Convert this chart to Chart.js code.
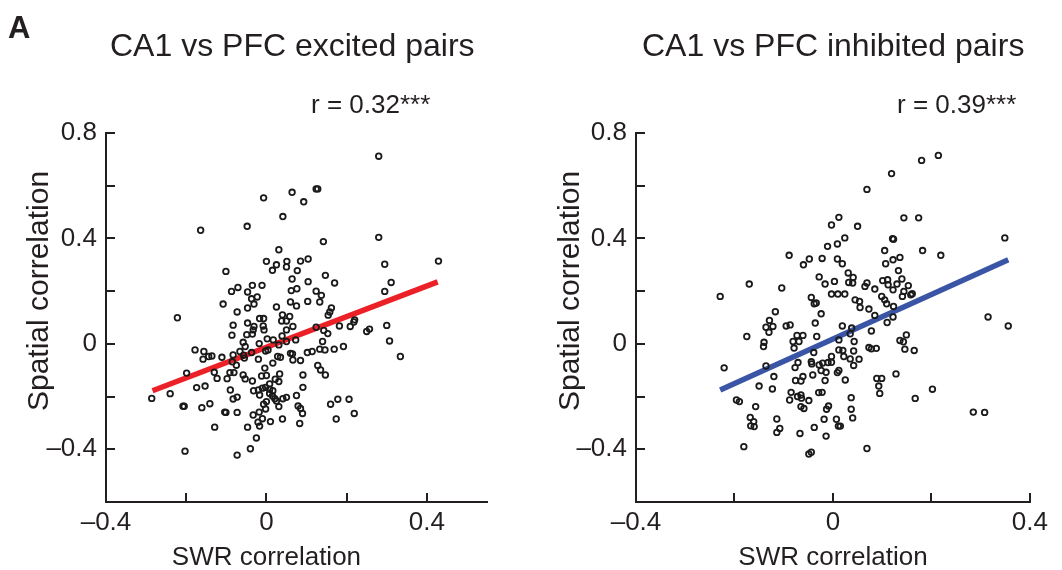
<!DOCTYPE html>
<html>
<head>
<meta charset="utf-8">
<script src="https://cdn.jsdelivr.net/npm/chart.js@4.4.1/dist/chart.umd.min.js"></script>
<style>
  html, body { margin: 0; padding: 0; background: #fff; }
  #fig { position: relative; width: 1062px; height: 570px; overflow: hidden; }
  .panel { position: absolute; top: 0; width: 531px; height: 570px; }
</style>
</head>
<body>
<div id="fig">
  <div class="panel" style="left:0"><canvas id="excited"></canvas></div>
  <div class="panel" style="left:531px"><canvas id="inhibited"></canvas></div>
</div>
<script>
(function () {
  "use strict";

  var FONT = '"Liberation Sans", Arial, Helvetica, sans-serif';
  var INK = "#231f20";

  // [SWR correlation, spatial correlation] per cell pair
  var excitedPairs = [
    [-0.007,0.554],[-0.164,0.431],[-0.048,0.446],[0.031,0.357],[0.000,0.313],[0.025,0.300],[0.015,0.279],
    [-0.101,0.275],[-0.087,0.199],[-0.071,0.214],[-0.047,0.197],[-0.035,0.222],[-0.011,0.222],[-0.037,0.171],
    [-0.023,0.178],[-0.031,0.151],[-0.108,0.151],[-0.047,0.136],[0.025,0.140],
    [0.280,0.712],[0.124,0.588],[0.128,0.588],[0.064,0.575],[0.093,0.539],[0.041,0.483],[0.280,0.404],
    [0.142,0.388],[0.051,0.313],[0.050,0.292],[0.077,0.278],[0.085,0.314],[0.104,0.322],[0.295,0.302],
    [0.429,0.314],[0.147,0.260],[0.064,0.246],[0.104,0.236],[0.170,0.231],[0.311,0.233],[0.076,0.209],
    [0.062,0.202],[0.124,0.200],[0.137,0.184],[0.295,0.199],[0.060,0.159],[0.075,0.144],[0.103,0.161],
    [0.133,0.159],[0.162,0.136],
    [-0.222,0.099],[-0.073,0.121],[-0.017,0.096],[-0.007,0.096],[-0.047,0.079],[-0.083,0.071],[-0.031,0.066],
    [-0.008,0.068],[-0.006,0.053],[-0.033,0.053],[-0.086,0.033],[-0.049,0.035],[-0.035,0.037],[0.002,0.019],
    [0.017,0.015],[-0.058,0.006],[-0.053,-0.010],[-0.018,0.001],[0.031,-0.004],[-0.178,-0.023],[-0.156,-0.029],
    [-0.066,-0.029],[-0.037,-0.033],[-0.002,-0.027],[0.004,-0.023],[-0.144,-0.048],[-0.136,-0.046],
    [-0.158,-0.058],[-0.111,-0.051],[-0.083,-0.042],[-0.057,-0.043],[-0.055,-0.054],[-0.020,-0.058],
    [0.028,-0.048],[-0.085,-0.068],[-0.075,-0.081],[0.016,-0.073],[-0.004,-0.092],[-0.199,-0.111],
    [-0.130,-0.108],[-0.091,-0.109],[-0.081,-0.109],[-0.058,-0.118],[-0.012,-0.122],[0.000,-0.120],
    [-0.123,-0.131],[-0.098,-0.132],[-0.053,-0.133],[-0.035,-0.141],[0.022,-0.134],[0.008,-0.152],
    [0.031,-0.143],[-0.174,-0.166],[-0.153,-0.160],[-0.090,-0.175],[-0.032,-0.178],[-0.020,-0.175],
    [-0.010,-0.168],[-0.002,-0.165],[0.008,-0.172],[0.016,-0.178],[-0.240,-0.189],[-0.017,-0.194],
    [0.008,-0.188],[0.015,-0.198],[-0.286,-0.207],[-0.083,-0.209],[-0.073,-0.202],[0.021,-0.208],
    [0.000,-0.219],[0.025,-0.217],[-0.208,-0.237],[-0.205,-0.237],[-0.161,-0.242],[-0.141,-0.227],
    [-0.007,-0.229],[-0.002,-0.247],[0.031,-0.238],[-0.104,-0.259],[-0.101,-0.260],[-0.073,-0.260],
    [-0.033,-0.270],[-0.018,-0.259],[-0.010,-0.284],[-0.021,-0.297],[-0.017,-0.312],[0.010,-0.295],
    [-0.047,-0.316],[-0.129,-0.316],[-0.025,-0.357],[-0.040,-0.398],[-0.203,-0.407],[-0.073,-0.422],
    [0.158,0.121],[0.154,0.109],[0.040,0.110],[0.058,0.104],[0.038,0.087],[0.050,0.087],[0.066,0.066],
    [0.050,0.053],[0.124,0.063],[0.143,0.051],[0.153,0.039],[0.182,0.068],[0.209,0.066],[0.218,0.083],
    [0.220,0.091],[0.250,0.047],[0.257,0.056],[0.300,0.070],[0.307,0.011],[0.334,-0.048],[0.039,0.030],
    [0.050,0.009],[0.073,0.015],[0.035,-0.051],[0.060,-0.036],[0.065,-0.038],[0.102,-0.033],[0.114,-0.029],
    [0.133,-0.020],[0.146,-0.023],[0.169,-0.020],[0.192,-0.010],[0.140,0.009],[0.066,-0.061],[0.085,-0.063],
    [0.128,-0.082],[0.135,-0.099],[0.147,-0.118],[0.033,-0.114],[0.091,-0.118],[0.091,-0.165],[0.041,-0.208],
    [0.050,-0.203],[0.075,-0.196],[0.160,-0.229],[0.178,-0.210],[0.206,-0.210],[0.079,-0.236],[0.085,-0.245],
    [0.090,-0.264],[0.219,-0.264],[0.174,-0.285],[0.040,-0.285],[0.083,-0.302]
  ];

  var inhibitedPairs = [
    [-0.229,0.180],[-0.170,0.227],[-0.104,0.212],[-0.089,0.336],[-0.060,0.300],[-0.048,0.322],[-0.022,0.324],
    [-0.003,0.451],[0.012,0.480],[-0.011,0.370],[0.009,0.379],[0.024,0.402],[0.009,0.322],[0.019,0.304],
    [-0.028,0.254],[-0.016,0.227],[0.003,0.237],[-0.003,0.189],[0.010,0.189],[0.024,0.189],[-0.044,0.176],
    [-0.034,0.155],
    [0.214,0.715],[0.180,0.696],[0.119,0.646],[0.069,0.586],[0.050,0.446],[0.144,0.478],[0.174,0.478],
    [0.121,0.399],[0.123,0.397],[0.349,0.402],[0.105,0.354],[0.182,0.354],[0.219,0.336],[0.122,0.319],
    [0.136,0.328],[0.107,0.304],[0.133,0.278],[0.031,0.269],[0.041,0.252],[0.032,0.233],[0.040,0.231],
    [0.101,0.240],[0.111,0.243],[0.112,0.224],[0.140,0.246],[0.130,0.227],[0.153,0.221],[0.069,0.231],
    [0.065,0.218],[0.085,0.208],[0.122,0.205],[0.144,0.199],[0.141,0.180],[0.158,0.186],[0.161,0.190],
    [0.099,0.180],[0.105,0.167],[0.109,0.152],[0.123,0.142],[0.045,0.167],[0.054,0.161],[0.055,0.138],
    [0.073,0.132],
    [-0.117,0.122],[-0.129,0.089],[-0.136,0.063],[-0.122,0.066],[-0.130,0.044],[-0.095,0.068],[-0.087,0.072],
    [-0.175,0.028],[-0.140,0.006],[-0.141,-0.010],[-0.073,0.032],[-0.061,0.032],[-0.081,0.009],[-0.069,0.009],
    [-0.079,-0.016],[-0.038,0.152],[-0.024,0.114],[-0.036,0.079],[-0.033,0.028],[0.019,0.068],[0.012,0.015],
    [0.012,-0.023],[0.020,-0.025],[-0.039,-0.033],[-0.003,-0.048],[0.022,-0.048],[-0.221,-0.091],
    [-0.136,-0.084],[-0.071,-0.071],[-0.077,-0.090],[-0.044,-0.068],[-0.043,-0.076],[-0.028,-0.080],
    [-0.021,-0.073],[-0.010,-0.071],[-0.003,-0.070],[-0.024,-0.101],[-0.014,-0.108],[0.009,-0.109],
    [0.012,-0.101],[-0.120,-0.124],[-0.061,-0.124],[-0.076,-0.139],[-0.065,-0.141],[-0.041,-0.118],
    [-0.016,-0.139],[0.025,-0.137],[-0.150,-0.160],[-0.123,-0.171],[-0.196,-0.213],[-0.190,-0.219],
    [-0.157,-0.238],[-0.085,-0.184],[-0.088,-0.213],[-0.072,-0.200],[-0.065,-0.194],[-0.064,-0.206],
    [-0.049,-0.215],[-0.029,-0.185],[-0.022,-0.184],[-0.065,-0.238],[-0.059,-0.245],[-0.009,-0.236],
    [-0.013,-0.248],[-0.168,-0.279],[-0.161,-0.295],[-0.167,-0.311],[-0.160,-0.314],[-0.114,-0.285],
    [-0.108,-0.321],[-0.114,-0.336],[-0.067,-0.340],[-0.038,-0.317],[-0.018,-0.286],[-0.014,-0.350],
    [0.007,-0.286],[0.011,-0.312],[0.015,-0.312],[-0.181,-0.390],[-0.049,-0.418],[-0.044,-0.411],
    [0.085,0.108],[0.122,0.102],[0.110,0.081],[0.038,0.060],[0.078,0.049],[0.035,0.038],[0.043,0.009],
    [0.136,0.013],[0.143,0.008],[0.149,0.034],[0.315,0.102],[0.356,0.068],[0.042,-0.027],[0.073,-0.014],
    [0.078,-0.019],[0.088,-0.017],[0.146,-0.020],[0.165,-0.025],[0.035,-0.057],[0.053,-0.058],
    [0.042,-0.082],[0.089,-0.131],[0.099,-0.131],[0.128,-0.114],[0.093,-0.160],[0.095,-0.188],
    [0.202,-0.172],[0.167,-0.207],[0.037,-0.204],[0.037,-0.248],[0.040,-0.281],[0.285,-0.259],
    [0.308,-0.260],[0.069,-0.397]
  ];

  // regression line end points
  var excitedFit = [[-0.284,-0.178],[0.427,0.235]];
  var inhibitedFit = [[-0.229,-0.175],[0.356,0.319]];

  var xRanges = { excited: [-0.4, 0.55], inhibited: [-0.4, 0.4] };
  var yRange = [-0.6, 0.8];
  var tickStep = 0.2;
  var labelStep = 0.4;

  var titles = { excited: "CA1 vs PFC excited pairs", inhibited: "CA1 vs PFC inhibited pairs" };
  var stats = { excited: "r = 0.32***", inhibited: "r = 0.39***" };
  var xTitle = "SWR correlation";
  var yTitle = "Spatial correlation";

  function toXY(list) {
    return list.map(function (p) { return { x: p[0], y: p[1] }; });
  }

  function tickText(v) {
    var q = v / labelStep;
    if (Math.abs(q - Math.round(q)) > 1e-6) return "";
    if (Math.abs(v) < 1e-9) return "0";
    return (v < 0 ? "\u2013" : "") + Math.abs(v).toFixed(1);
  }

  var panelText = {
    id: "panelText",
    afterDraw: function (chart, args, o) {
      var ctx = chart.ctx;
      var xs = chart.scales.x;
      ctx.save();
      ctx.fillStyle = INK;
      ctx.textBaseline = "alphabetic";
      if (o.letter) {
        ctx.font = "bold 31px " + FONT;
        ctx.textAlign = "left";
        ctx.fillText(o.letter, 8, 38);
      }
      ctx.font = "32px " + FONT;
      ctx.textAlign = "left";
      ctx.fillText(o.title, o.titleLeft, 56);
      ctx.font = "26px " + FONT;
      ctx.fillText(o.stat, o.statLeft, 113);
      ctx.textAlign = "center";
      ctx.fillText(o.xTitle, xs.getPixelForValue(0), 565);
      ctx.font = "30px " + FONT;
      ctx.translate(o.yTitleX, 291);
      ctx.rotate(-Math.PI / 2);
      ctx.fillText(o.yTitle, 0, 0);
      ctx.restore();
    }
  };

  function axisOpts(range, fitSize, isX) {
    return {
      type: "linear",
      min: range[0],
      max: range[1],
      afterFit: function (s) {
        if (isX) s.height = fitSize; else s.width = fitSize;
      },
      border: { display: true, color: INK, width: 2 },
      grid: { drawOnChartArea: false, drawTicks: true, tickLength: -9, color: INK, lineWidth: 2 },
      ticks: {
        stepSize: tickStep,
        includeBounds: false,
        autoSkip: false,
        maxRotation: 0,
        padding: isX ? 14 : 18,
        color: INK,
        font: { family: FONT, size: 26 },
        callback: function (v) { return tickText(v); }
      }
    };
  }

  function makePanel(canvasId, key, pairs, fit, fitColor, pad, text) {
    var canvas = document.getElementById(canvasId);
    if (!canvas) return null;
    return new Chart(canvas.getContext("2d"), {
      type: "scatter",
      data: {
        datasets: [
          {
            data: toXY(pairs),
            pointStyle: "circle",
            pointRadius: 2.8,
            pointHoverRadius: 2.8,
            pointBorderWidth: 1.8,
            pointBorderColor: "#1a1a1a",
            pointBackgroundColor: "rgba(255,255,255,0)"
          },
          {
            data: toXY(fit),
            showLine: true,
            borderColor: fitColor,
            borderWidth: 5.5,
            borderCapStyle: "butt",
            pointRadius: 0,
            pointHoverRadius: 0
          }
        ]
      },
      options: {
        responsive: true,
        maintainAspectRatio: false,
        animation: false,
        events: [],
        layout: { padding: pad },
        plugins: {
          legend: { display: false },
          tooltip: { enabled: false },
          title: { display: false },
          panelText: text
        },
        scales: {
          x: axisOpts(xRanges[key], 68, true),
          y: axisOpts(yRange, 80, false)
        }
      },
      plugins: [panelText]
    });
  }

  makePanel("excited", "excited", excitedPairs, excitedFit, "#ec2127",
    { left: 26, right: 44, top: 133, bottom: 0 },
    { letter: "A", title: titles.excited, titleLeft: 110, stat: stats.excited, statLeft: 311,
      xTitle: xTitle, yTitle: yTitle, yTitleX: 48 });

  makePanel("inhibited", "inhibited", inhibitedPairs, inhibitedFit, "#3a55a5",
    { left: 25, right: 23, top: 133, bottom: 0 },
    { letter: "", title: titles.inhibited, titleLeft: 111, stat: stats.inhibited, statLeft: 366,
      xTitle: xTitle, yTitle: yTitle, yTitleX: 48 });
})();
</script>
</body>
</html>
